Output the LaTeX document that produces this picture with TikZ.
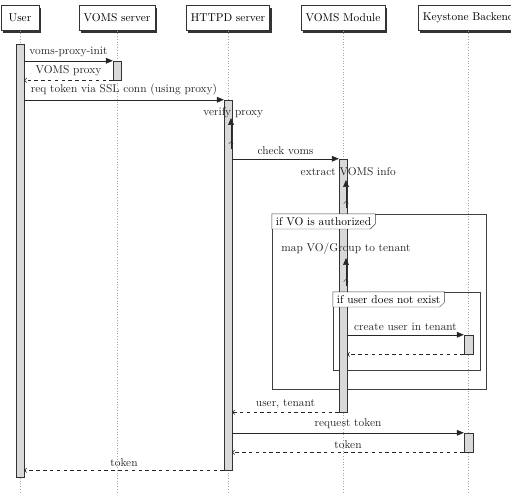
\documentclass[tikz,border=0pt]{standalone}
\usetikzlibrary{arrows.meta, positioning, shadows, fit, calc, decorations.markings}
\tikzstyle{instance} = [rectangle, draw=black!80, fill=white, minimum height=22pt, minimum width=33pt, inner xsep=4pt, drop shadow={shadow xshift=1.8pt, shadow yshift=-1.8pt, fill=black, opacity=0.8}]
\tikzstyle{lifeline} = [dotted, gray!70]
\tikzstyle{activity} = [rectangle, draw=black!80, fill=gray!30, inner sep=0pt]
\tikzstyle{call} = [draw=black!85, -{Triangle[length=6pt,width=5pt]}]
\tikzstyle{reply} = [draw=black!85, dashed, -{Straight Barb[length=2pt,width=4pt]}]
\tikzstyle{selfcall} = [draw=black!85, -{Triangle[length=6pt,width=5pt]}, decoration={markings, mark=at position 0.25 with {\arrow{Straight Barb[length=2pt,width=4pt]}}}, postaction={decorate}]
\tikzstyle{fragment} = [rectangle, draw=black!75, inner sep=0pt]
\tikzstyle{fragtab} = [anchor=north west, fill=white, inner xsep=3.5pt, inner ysep=1.5pt, minimum height=13pt]
\tikzstyle{msg} = [above, text=black!85]

\begin{document}
\begin{tikzpicture}[x=0.88pt, y=-0.88pt]
\useasboundingbox (0,0) rectangle (511,494);
\coordinate (bottom) at (0,494);

% Instances
\node (user) [instance] at (20,18) {User};
\node (vomsSrv) [instance] at (117,18) {VOMS server};
\node (httpd) [instance] at (228,18) {HTTPD server};
\node (module) [instance] at (343,18) {VOMS Module};
\node (keystone) [instance] at (468.5,18) {Keystone Backend};

% Lifelines
\draw [lifeline] (user.south) -- (user.south |- bottom);
\draw [lifeline] (vomsSrv.south) -- (vomsSrv.south |- bottom);
\draw [lifeline] (httpd.south) -- (httpd.south |- bottom);
\draw [lifeline] (module.south) -- (module.south |- bottom);
\draw [lifeline] (keystone.south) -- (keystone.south |- bottom);

% Fragments
\node (fVO) [fragment, fit={(272,214) (486,389)}] {};
\node (fUser) [fragment, fit={(333,292) (480,370)}] {};

% Activity bars
\node (bUser) [activity, fit={(16,44) (24,477)}] {};
\node (bVoms) [activity, fit={(113,61) (121,80)}] {};
\node (bHttpd) [activity, fit={(224,100) (232,470)}] {};
\node (bModule) [activity, fit={(339,159) (347,412)}] {};
\node (bKey1) [activity, fit={(464,335) (473,354)}] {};
\node (bKey2) [activity, fit={(464,433) (473,452)}] {};

% Fragment tabs
\node (tVO) [fragtab] at (fVO.north west) {if VO is authorized};
\draw [draw=black!75] (tVO.north west) -- (tVO.north east) -- ($(tVO.south east)+(0,-5)$) -- ($(tVO.south east)+(-5,0)$) -- (tVO.south west) -- cycle;
\node (tUser) [fragtab] at (fUser.north west) {if user does not exist};
\draw [draw=black!75] (tUser.north west) -- (tUser.north east) -- ($(tUser.south east)+(0,-5)$) -- ($(tUser.south east)+(-5,0)$) -- (tUser.south west) -- cycle;

% Self calls
\coordinate (vpBot) at (231,149);
\coordinate (vpTop) at (231,118);
\coordinate (exBot) at (346,208);
\coordinate (exTop) at (346,180);
\coordinate (mapBot) at (346,286);
\coordinate (mapTop) at (346,258);

% Messages
\draw [call] (bUser.east |- bVoms.north) -- node[msg] {voms-proxy-init} (bVoms.north west);
\draw [reply] (bVoms.south west) -- node[msg] {VOMS proxy} (bUser.east |- bVoms.south);
\draw [call] (bUser.east |- bHttpd.north) -- node[msg] {req token via SSL conn (using proxy)} (bHttpd.north west);
\draw [selfcall] (vpBot) -- (vpTop) node[msg, xshift=2pt, yshift=-3pt] {verify proxy};
\draw [call] (bHttpd.east |- bModule.north) -- node[msg] {check voms} (bModule.north west);
\draw [selfcall] (exBot) -- (exTop) node[msg, xshift=2pt] {extract VOMS info};
\draw [selfcall] (mapBot) -- (mapTop) node[msg] {map VO/Group to tenant};
\draw [call] (bModule.east |- bKey1.north) -- node[msg] {create user in tenant} (bKey1.north west);
\draw [reply] (bKey1.south west) -- (bModule.east |- bKey1.south);
\draw [reply] (bModule.south west) -- node[msg] {user, tenant} (bHttpd.east |- bModule.south);
\draw [call] (bHttpd.east |- bKey2.north) -- node[msg] {request token} (bKey2.north west);
\draw [reply] (bKey2.south west) -- node[msg] {token} (bHttpd.east |- bKey2.south);
\draw [reply] (bHttpd.south west) -- node[msg] {token} (bUser.east |- bHttpd.south);

\end{tikzpicture}
\end{document}
